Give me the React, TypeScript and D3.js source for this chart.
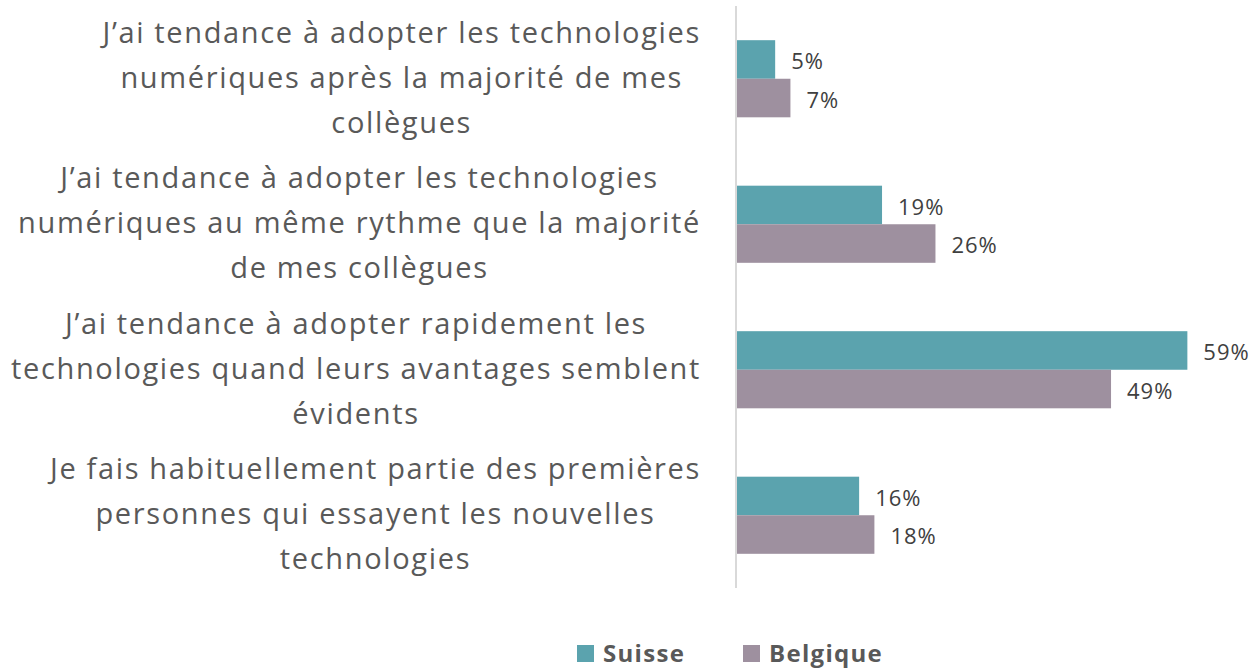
import { useEffect, useRef } from 'react';
import * as d3 from 'd3';

// ---- data ----
const categoryLines: string[][] = [
  ['J’ai tendance à adopter les technologies', 'numériques après la majorité de mes', 'collègues'],
  ['J’ai tendance à adopter les technologies', 'numériques au même rythme que la majorité', 'de mes collègues'],
  ['J’ai tendance à adopter rapidement les', 'technologies quand leurs avantages semblent', 'évidents'],
  ['Je fais habituellement partie des premières', 'personnes qui essayent les nouvelles', 'technologies'],
];
const seriesNames = ['Suisse', 'Belgique'];
const suisseValues = [5, 19, 59, 16];
const belgiqueValues = [7, 26, 49, 18];
const seriesColors = ['#5BA3AE', '#9E909F'];

const W = 1253;
const H = 668;
const FONT = '"Open Sans", Lato, sans-serif';

export default function App() {
  const svgRef = useRef<SVGSVGElement>(null);

  useEffect(() => {
    document.body.style.margin = '0';
    const svg = d3.select(svgRef.current);
    svg.selectAll('*').remove();

    const cats = categoryLines.map((_, i) => String(i));
    const values = [suisseValues, belgiqueValues];

    const x = d3.scaleLinear().domain([0, 60]).range([737, 1195]);
    const y = d3.scaleBand<string>().domain(cats).range([6, 588]).paddingInner(0.47).paddingOuter(0.235);
    const ySub = d3.scaleBand<string>().domain(seriesNames).range([0, y.bandwidth()]);

    // bars
    seriesNames.forEach((name, si) => {
      svg.append('g')
        .selectAll('rect')
        .data(values[si])
        .enter()
        .append('rect')
        .attr('x', x(0))
        .attr('y', (_, i) => (y(cats[i]) as number) + (ySub(name) as number))
        .attr('width', (d) => x(d) - x(0))
        .attr('height', ySub.bandwidth())
        .attr('fill', seriesColors[si]);

      svg.append('g')
        .selectAll('text')
        .data(values[si])
        .enter()
        .append('text')
        .attr('x', (d) => x(d) + 16)
        .attr('y', (_, i) => (y(cats[i]) as number) + (ySub(name) as number) + ySub.bandwidth() / 2 + 2)
        .attr('dy', '0.35em')
        .attr('font-family', FONT)
        .attr('font-size', 22)
        .attr('letter-spacing', 1)
        .attr('fill', '#404040')
        .text((d) => `${d}%`);
    });

    // axis line
    svg.append('line')
      .attr('x1', 736).attr('x2', 736)
      .attr('y1', 6).attr('y2', 588)
      .attr('stroke', '#D9D9D9').attr('stroke-width', 2);

    // category labels (centered block, right edge against axis)
    const rightEdge = 701;
    categoryLines.forEach((lines, i) => {
      const cy = (y(cats[i]) as number) + y.bandwidth() / 2;
      const g = svg.append('g');
      const texts = g.selectAll('text')
        .data(lines)
        .enter()
        .append('text')
        .attr('y', (_, li) => cy - 36 + li * 45)
        .attr('font-family', FONT)
        .attr('font-size', 29)
        .attr('letter-spacing', 1.65)
        .attr('fill', '#595959')
        .attr('text-anchor', 'middle')
        .text((d) => d);
      let maxW = 0;
      texts.each(function () {
        maxW = Math.max(maxW, (this as SVGTextElement).getComputedTextLength());
      });
      texts.attr('x', rightEdge - maxW / 2);
    });

    // legend
    const legend = svg.append('g');
    const legendX = [577, 743];
    seriesNames.forEach((name, si) => {
      legend.append('rect')
        .attr('x', legendX[si]).attr('y', 645)
        .attr('width', 17).attr('height', 17)
        .attr('fill', seriesColors[si]);
      legend.append('text')
        .attr('x', legendX[si] + 26).attr('y', 662)
        .attr('font-family', FONT)
        .attr('font-size', 24)
        .attr('font-weight', 'bold')
        .attr('letter-spacing', 1.3)
        .attr('fill', '#595959')
        .text(name);
    });
  }, []);

  return <svg ref={svgRef} width={W} height={H} style={{ display: 'block', background: '#fff' }} />;
}
